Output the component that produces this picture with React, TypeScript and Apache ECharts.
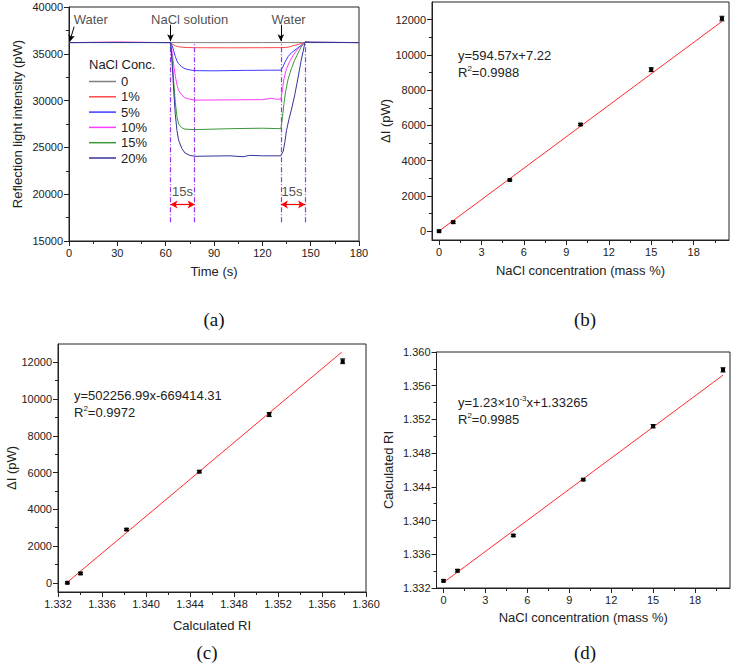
import React, { useEffect, useRef } from 'react';
import * as echarts from 'echarts';

const FONT = '"Liberation Sans", Arial, Helvetica, sans-serif';
const SERIF = '"Liberation Serif", "Times New Roman", serif';
const INK = '#222';

// ---------- Panel (a): time traces ----------
const legendNames = ['0', '1%', '5%', '10%', '15%', '20%'];
const curveColors = ['#808080', '#ff4a4a', '#3c3cff', '#ff3cff', '#3a9a3a', '#34349a'];

const trace0 = [[0, 36200], [30, 36210], [63, 36200], [90, 36190], [120, 36200], [150, 36200], [180, 36200]];
const trace1 = [[0, 36200], [30, 36230], [63, 36200], [64, 36050], [66, 35850], [68, 35750], [72, 35680], [78, 35650], [100, 35640], [120, 35650], [131.5, 35660], [136, 35700], [138, 35800], [141, 35950], [144, 36100], [146.5, 36250], [150, 36220], [180, 36200]];
const trace5 = [[0, 36200], [30, 36220], [63, 36200], [64, 35900], [65, 35300], [66, 34700], [67, 34250], [68, 33950], [70, 33600], [72, 33400], [75, 33280], [78, 33200], [90, 33180], [110, 33230], [125, 33250], [131.5, 33250], [132.5, 33500], [134, 34100], [136, 34700], [138, 35100], [141, 35500], [144, 35900], [146.5, 36250], [150, 36230], [180, 36200]];
const trace10 = [[0, 36200], [30, 36240], [63, 36200], [64, 35200], [65, 33800], [66, 32600], [67, 31700], [68, 31100], [70, 30600], [72, 30300], [75, 30150], [78, 30050], [100, 30080], [120, 30100], [126, 30250], [128, 30150], [131.5, 30150], [132.5, 31200], [133.5, 32400], [135, 33400], [137, 34200], [139, 34800], [141, 35300], [143, 35700], [146.5, 36250], [150, 36230], [180, 36200]];
const trace15 = [[0, 36200], [30, 36210], [63, 36200], [64, 34500], [65, 32000], [66, 29800], [67, 28300], [68, 27500], [70, 27100], [72, 26950], [78, 26900], [100, 27000], [120, 27050], [131.5, 27000], [132.5, 28200], [133.5, 29800], [134.5, 31000], [136, 32300], [138, 33400], [140, 34300], [142, 35000], [144, 35700], [146.5, 36250], [150, 36220], [180, 36200]];
const trace20 = [[0, 36200], [30, 36200], [63, 36200], [64, 34000], [65, 31000], [66, 28500], [67, 26800], [68, 25800], [70, 24900], [72, 24400], [75, 24150], [78, 24050], [90, 24080], [100, 24100], [108, 24000], [112, 24150], [120, 24100], [131.5, 24100], [133, 24600], [134, 25600], [135, 26800], [136.5, 28000], [138, 29000], [140, 30500], [142, 32300], [144, 34200], [145.5, 35400], [146.5, 36250], [150, 36220], [180, 36200]];
const traces = [trace0, trace1, trace5, trace10, trace15, trace20];

const switchTimes = [63, 78, 131.5, 146.5];
const dashBottom = 17000;
const baseline = 36200;
const spanArrows = [[63, 78], [131.5, 146.5]];
const spanArrowLevel = 18900;
const spanLabels = [{ name: '15s', value: [70.4, 20250] }, { name: '15s', value: [138.4, 20250] }];
const eventLabels = [{ name: 'Water', value: [13.5, 38640] }, { name: 'NaCl solution', value: [74.9, 38640] }, { name: 'Water', value: [136.3, 38640] }];
const eventArrows = [[[3.2, 37900], [0.4, 36300]], [[63, 38100], [63, 36350]], [[131.5, 38100], [131.5, 36350]]];

// ---------- Panels (b)-(d) ----------
const concentrations = [0, 1, 5, 10, 15, 20];
const deltaI = [0, 510, 2900, 6050, 9160, 12060];
const deltaIErr = [50, 60, 50, 60, 110, 130];
const calcRI = [1.33285, 1.33405, 1.33823, 1.34485, 1.3512, 1.35788];
const riErr = [0.00012, 0.00015, 0.0001, 0.0001, 0.0002, 0.00025];

const fitB = [[0, 7], [20, 11898]];
const fitC = [[1.33285, 30], [1.3578, 12560]];
const fitD = [[0, 1.33265], [20, 1.35725]];

const concMajor = [0, 3, 6, 9, 12, 15, 18];
const concMinor = [1.5, 4.5, 7.5, 10.5, 13.5, 16.5, 19.5];
const dIMajor = [0, 2000, 4000, 6000, 8000, 10000, 12000];
const dIMinor = [1000, 3000, 5000, 7000, 9000, 11000];

function errorRender(params: any, api: any) {
  const x = api.value(0), y = api.value(1), e = api.value(2);
  const c = api.coord([x, y]);
  const lo = api.coord([x, y - e]);
  const hi = api.coord([x, y + e]);
  const hw = 2.5;
  const st = { stroke: '#000', lineWidth: 1 };
  return {
    type: 'group',
    children: [
      { type: 'line', shape: { x1: c[0], y1: lo[1], x2: c[0], y2: hi[1] }, style: st },
      { type: 'line', shape: { x1: c[0] - hw, y1: lo[1], x2: c[0] + hw, y2: lo[1] }, style: st },
      { type: 'line', shape: { x1: c[0] - hw, y1: hi[1], x2: c[0] + hw, y2: hi[1] }, style: st },
      { type: 'rect', shape: { x: c[0] - 2, y: c[1] - 2, width: 4, height: 4 }, style: { fill: '#000' } },
    ],
  };
}

const plain = (v: number) => String(v);
const fix3 = (v: number) => v.toFixed(3);
const labelStyle = { color: INK, fontSize: 11, fontFamily: FONT, margin: 6, formatter: plain };
const nameStyle = { color: INK, fontSize: 13, fontFamily: FONT };
const lineStyle = { color: INK, width: 1 };

function mainAxis(o: any) {
  return {
    type: 'value',
    splitLine: { show: false },
    axisLine: { show: true, onZero: false, lineStyle },
    axisTick: { show: true, length: 5, lineStyle },
    axisLabel: labelStyle,
    nameLocation: 'middle',
    nameTextStyle: nameStyle,
    ...o,
  };
}
function minorAxis(o: any) {
  return {
    type: 'value',
    splitLine: { show: false },
    axisLine: { show: false, onZero: false },
    axisLabel: { show: false },
    ...o,
  };
}

function eqText(x: number, y: number, txt: string) {
  return {
    type: 'text', left: x, top: y,
    style: {
      text: txt, fill: INK, fontSize: 13, fontFamily: FONT, lineHeight: 17,
      rich: { s: { fontSize: 8, verticalAlign: 'top', fill: INK, fontFamily: FONT, lineHeight: 17 }, n: { fontSize: 13, fill: INK, fontFamily: FONT, lineHeight: 17 } },
    },
  };
}
function panelLabel(cx: number, cy: number, txt: string) {
  return { type: 'text', x: cx, y: cy, style: { text: txt, fill: '#111', fontSize: 19, fontFamily: SERIF, align: 'center', verticalAlign: 'middle' } };
}

export default function App() {
  const ref = useRef<HTMLDivElement>(null);
  useEffect(() => {
    document.body.style.margin = '0';
    const chart = echarts.init(ref.current!, null, { renderer: 'svg' });
    const series: any[] = [];
    traces.forEach((d, i) => {
      series.push({
        type: 'line', name: legendNames[i], xAxisIndex: 0, yAxisIndex: 0, data: d,
        showSymbol: false, symbol: 'none', color: curveColors[i],
        lineStyle: { width: 1, color: curveColors[i] }, z: 2 + i,
      });
    });
    series.push({
      type: 'line', xAxisIndex: 0, yAxisIndex: 0, data: switchTimes.map((t) => [t, baseline]),
      symbol: 'none', lineStyle: { opacity: 0 }, silent: true,
      markLine: {
        silent: true, symbol: ['none', 'none'], label: { show: false },
        lineStyle: { color: '#9a33ee', width: 1.2, type: [5, 2, 1, 2] },
        data: switchTimes.map((t) => [{ coord: [t, dashBottom] }, { coord: [t, baseline] }]),
      },
    });
    series.push({
      type: 'line', xAxisIndex: 0, yAxisIndex: 0, data: spanArrows.map((s) => [s[0], spanArrowLevel]),
      symbol: 'none', lineStyle: { opacity: 0 }, silent: true,
      markLine: {
        silent: true, symbol: ['arrow', 'arrow'], symbolSize: [6, 7], label: { show: false },
        lineStyle: { color: '#ff0000', width: 1.2, type: 'solid' },
        data: spanArrows.map((s) => [{ coord: [s[0], spanArrowLevel] }, { coord: [s[1], spanArrowLevel] }]),
      },
    });
    series.push({
      type: 'line', xAxisIndex: 0, yAxisIndex: 0, data: eventArrows.map((a) => a[0]),
      symbol: 'none', lineStyle: { opacity: 0 }, silent: true,
      markLine: {
        silent: true, symbol: ['none', 'arrow'], symbolSize: [5, 7], label: { show: false },
        lineStyle: { color: '#000', width: 1, type: 'solid' },
        data: eventArrows.map((a) => [{ coord: a[0] }, { coord: a[1] }]),
      },
    });
    series.push({
      type: 'scatter', xAxisIndex: 0, yAxisIndex: 0, data: [...eventLabels, ...spanLabels],
      symbolSize: 1, itemStyle: { color: 'rgba(0,0,0,0)' }, silent: true,
      label: { show: true, position: 'inside', formatter: '{b}', color: INK, fontSize: 13, fontFamily: FONT },
    });
    series.push({ type: 'line', xAxisIndex: 1, yAxisIndex: 1, data: fitB, symbol: 'none', lineStyle: { color: '#ff2a2a', width: 1 } });
    series.push({
      type: 'custom', xAxisIndex: 1, yAxisIndex: 1, renderItem: errorRender, clip: false,
      encode: { x: 0, y: 1 }, data: concentrations.map((c, i) => [c, deltaI[i], deltaIErr[i]]), z: 5,
    });
    series.push({ type: 'line', xAxisIndex: 3, yAxisIndex: 3, data: fitC, symbol: 'none', lineStyle: { color: '#ff2a2a', width: 1 } });
    series.push({
      type: 'custom', xAxisIndex: 3, yAxisIndex: 3, renderItem: errorRender, clip: false,
      encode: { x: 0, y: 1 }, data: calcRI.map((r, i) => [r, deltaI[i], deltaIErr[i]]), z: 5,
    });
    series.push({ type: 'line', xAxisIndex: 4, yAxisIndex: 5, data: fitD, symbol: 'none', lineStyle: { color: '#ff2a2a', width: 1 } });
    series.push({
      type: 'custom', xAxisIndex: 4, yAxisIndex: 5, renderItem: errorRender, clip: false,
      encode: { x: 0, y: 1 }, data: concentrations.map((c, i) => [c, calcRI[i], riErr[i]]), z: 5,
    });

    const gridBox = { show: true, borderColor: INK, borderWidth: 1, backgroundColor: 'transparent' };
    chart.setOption({
      animation: false,
      backgroundColor: '#fff',
      grid: [
        { left: 69, top: 7, width: 290, height: 234, ...gridBox },
        { left: 432, top: 2, width: 297, height: 238, ...gridBox },
        { left: 58, top: 344, width: 308, height: 248, ...gridBox },
        { left: 436.5, top: 352, width: 293.5, height: 236, ...gridBox },
      ],
      legend: {
        data: legendNames, orient: 'vertical', left: 89, top: 74, icon: 'rect',
        itemWidth: 27, itemHeight: 1.5, itemGap: 0.3, padding: 0, selectedMode: false,
        textStyle: { fontSize: 13, lineHeight: 15, color: INK, fontFamily: FONT },
      },
      xAxis: [
        mainAxis({ gridIndex: 0, position: 'bottom', min: 0, max: 180, interval: 30, minorTick: { show: true, splitNumber: 2, length: 3, lineStyle }, name: 'Time (s)', nameGap: 24 }),
        mainAxis({ gridIndex: 1, position: 'bottom', min: -0.5, max: 20.5, axisLabel: { ...labelStyle, customValues: concMajor }, axisTick: { show: true, length: 5, lineStyle, customValues: concMajor }, name: 'NaCl concentration (mass %)', nameGap: 24 }),
        minorAxis({ gridIndex: 1, position: 'bottom', min: -0.5, max: 20.5, axisTick: { show: true, length: 3, lineStyle, customValues: concMinor } }),
        mainAxis({ gridIndex: 2, position: 'bottom', min: 1.332, max: 1.36, interval: 0.004, minorTick: { show: true, splitNumber: 2, length: 3, lineStyle }, axisLabel: { ...labelStyle, formatter: fix3 }, name: 'Calculated RI', nameGap: 27 }),
        mainAxis({ gridIndex: 3, position: 'bottom', min: -0.5, max: 20.5, axisLabel: { ...labelStyle, customValues: concMajor }, axisTick: { show: true, length: 5, lineStyle, customValues: concMajor }, name: 'NaCl concentration (mass %)', nameGap: 23 }),
        minorAxis({ gridIndex: 3, position: 'bottom', min: -0.5, max: 20.5, axisTick: { show: true, length: 3, lineStyle, customValues: concMinor } }),
      ],
      yAxis: [
        mainAxis({ gridIndex: 0, position: 'left', min: 15000, max: 40000, interval: 5000, minorTick: { show: true, splitNumber: 2, length: 3, lineStyle }, name: 'Reflection light intensity (pW)', nameGap: 45 }),
        mainAxis({ gridIndex: 1, position: 'left', min: -500, max: 13000, axisLabel: { ...labelStyle, customValues: dIMajor }, axisTick: { show: true, length: 5, lineStyle, customValues: dIMajor }, name: 'ΔI (pW)', nameGap: 40 }),
        minorAxis({ gridIndex: 1, position: 'left', min: -500, max: 13000, axisTick: { show: true, length: 3, lineStyle, customValues: dIMinor } }),
        mainAxis({ gridIndex: 2, position: 'left', min: -500, max: 13000, axisLabel: { ...labelStyle, customValues: dIMajor }, axisTick: { show: true, length: 5, lineStyle, customValues: dIMajor }, name: 'ΔI (pW)', nameGap: 40 }),
        minorAxis({ gridIndex: 2, position: 'left', min: -500, max: 13000, axisTick: { show: true, length: 3, lineStyle, customValues: dIMinor } }),
        mainAxis({ gridIndex: 3, position: 'left', min: 1.332, max: 1.36, interval: 0.004, minorTick: { show: true, splitNumber: 2, length: 3, lineStyle }, axisLabel: { ...labelStyle, formatter: fix3 }, name: 'Calculated RI', nameGap: 42 }),
      ],
      graphic: [
        { type: 'text', left: 89, top: 58, style: { text: 'NaCl Conc.', fill: INK, fontSize: 13, fontFamily: FONT } },
        eqText(458, 47, '{n|y=594.57x+7.22}\n{n|R}{s|2}{n|=0.9988}'),
        eqText(74, 387, '{n|y=502256.99x-669414.31}\n{n|R}{s|2}{n|=0.9972}'),
        eqText(458, 394, '{n|y=1.23×10}{s|-3}{n|x+1.33265}\n{n|R}{s|2}{n|=0.9985}'),
        panelLabel(214, 319, '(a)'),
        panelLabel(585, 319, '(b)'),
        panelLabel(207, 652, '(c)'),
        panelLabel(585, 652, '(d)'),
      ],
      series,
    });
    return () => chart.dispose();
  }, []);
  return <div ref={ref} style={{ width: 733, height: 667 }} />;
}
